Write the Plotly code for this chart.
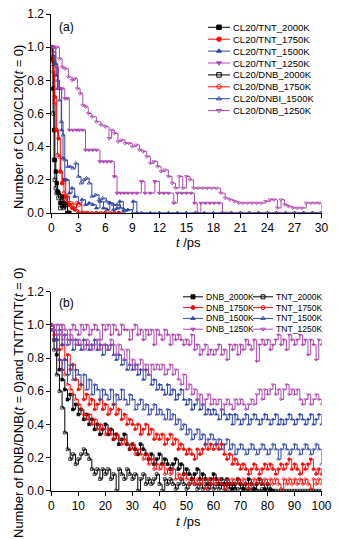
import plotly.graph_objects as go

# ---------------- Panel (a) data : CL20 fraction vs t (ps) ----------------
T_A_TNT_2000 = [0, 0.1, 0.2, 0.3, 0.4, 0.5, 0.6, 0.7, 0.8, 1.0, 1.2, 1.4, 1.6, 1.8, 2.0]
Y_A_TNT_2000 = [1.0, 0.93, 0.75, 0.5, 0.32, 0.25, 0.18, 0.13, 0.12, 0.06, 0.1, 0.04, 0.06, 0.0, 0.0]

T_A_DNB_2000 = [0, 0.1, 0.2, 0.3, 0.4, 0.5, 0.6, 0.8, 1.0, 1.2, 1.4, 1.6, 1.8, 2.0]
Y_A_DNB_2000 = [1.0, 0.9, 0.6, 0.32, 0.2, 0.15, 0.12, 0.09, 0.03, 0.07, 0.03, 0.05, 0.0, 0.0]

T_A_TNT_1750 = [0, 0.2, 0.4, 0.6, 0.8, 1.0, 1.2, 1.4, 1.6, 1.8, 2.0, 2.3, 2.6, 3.0, 3.5, 4.0, 5.0, 6.0, 7.0, 7.5]
Y_A_TNT_1750 = [1.0, 0.92, 0.7, 0.5, 0.45, 0.25, 0.18, 0.2, 0.1, 0.06, 0.05, 0.03, 0.02, 0.0, 0.0, 0.0, 0.0, 0.0, 0.0, 0.0]

T_A_DNB_1750 = [0, 0.2, 0.35, 0.5, 0.7, 0.9, 1.0, 1.2, 1.4, 1.6, 1.8, 2.0, 2.2, 2.5, 2.8, 3.1, 3.4, 3.8, 4.5, 5.5, 6.5, 7.5]
Y_A_DNB_1750 = [1.0, 0.85, 0.66, 0.5, 0.35, 0.34, 0.25, 0.18, 0.12, 0.08, 0.1, 0.05, 0.06, 0.03, 0.06, 0.05, 0.0, 0.0, 0.0, 0.0, 0.0, 0.0]

T_A_TNT_1500 = [0, 0.2, 0.4, 0.55, 0.7, 0.85, 1.0, 1.15, 1.3, 1.5, 1.7, 2.0, 2.3, 2.6, 3.0, 3.4, 3.8, 4.2, 4.6, 5.0,
                5.4, 5.8, 6.2, 6.5, 6.9, 7.3, 7.6, 8.0, 8.5, 9.1, 9.5, 10, 11, 12, 13, 14, 15, 16, 17, 18,
                19, 20, 21, 22, 23, 24, 25, 26, 27, 28, 29, 30]
Y_A_TNT_1500 = [1.0, 0.95, 0.9, 0.83, 0.75, 0.75, 0.75, 0.5, 0.33, 0.2, 0.2, 0.12, 0.15, 0.1, 0.06, 0.08, 0.05, 0.06, 0.05, 0.03,
                0.07, 0.03, 0.02, 0.06, 0.02, 0.03, 0.07, 0.01, 0.02, 0.07, 0.0, 0.0, 0.0, 0.0, 0.0, 0.0, 0.0, 0.0, 0.0, 0.0,
                0.0, 0.0, 0.0, 0.0, 0.0, 0.0, 0.0, 0.0, 0.0, 0.0, 0.0, 0.0]

T_A_DNB_1500 = [0, 0.3, 0.5, 0.7, 0.9, 1.1, 1.3, 1.5, 1.8, 2.1, 2.4, 2.7, 3.0, 3.3, 3.6, 3.9, 4.2, 4.5, 4.9, 5.3,
                5.7, 6.1, 6.5, 6.9, 7.3, 7.7, 8.1, 9, 10, 11, 12, 13, 14, 15, 16, 17, 18, 19, 20, 21,
                22, 23, 24, 25, 26, 27, 28, 29, 30]
Y_A_DNB_1500 = [1.0, 1.0, 0.9, 0.8, 0.68, 0.55, 0.47, 0.32, 0.28, 0.28, 0.27, 0.3, 0.22, 0.18, 0.2, 0.21, 0.18, 0.1, 0.11, 0.08,
                0.09, 0.07, 0.06, 0.05, 0.05, 0.03, 0.02, 0.0, 0.0, 0.0, 0.0, 0.0, 0.0, 0.0, 0.0, 0.0, 0.0, 0.0, 0.0, 0.0,
                0.0, 0.0, 0.0, 0.0, 0.0, 0.0, 0.0, 0.0, 0.0]

T_A_TNT_1250 = [0, 0.2, 0.5, 0.8, 1.2, 1.5, 1.8, 2.0, 2.4, 2.8, 3.1, 3.5, 3.8, 4.2, 4.6, 5.0, 5.4, 5.8, 6.2, 6.6,
                7.0, 7.3, 7.7, 8.1, 8.5, 9.0, 9.5, 10.0, 10.4, 11.0, 11.5, 12.0, 12.5, 13.0, 13.6, 14.0, 14.5, 15.0, 15.5, 15.9,
                16.2, 16.6, 17.1, 17.6, 18.1, 18.6, 19.0, 19.5, 20, 21, 22, 23, 24, 25, 26, 27, 28, 29, 30]
Y_A_TNT_1250 = [1.0, 0.97, 0.88, 0.75, 0.75, 0.69, 0.69, 0.5, 0.5, 0.5, 0.5, 0.5, 0.38, 0.38, 0.38, 0.38, 0.31, 0.31, 0.31, 0.31,
                0.22, 0.12, 0.12, 0.12, 0.12, 0.12, 0.12, 0.19, 0.12, 0.12, 0.19, 0.12, 0.12, 0.12, 0.06, 0.12, 0.12, 0.12, 0.12, 0.06,
                0.0, 0.06, 0.06, 0.06, 0.06, 0.06, 0.0, 0.0, 0.0, 0.0, 0.0, 0.0, 0.0, 0.0, 0.0, 0.0, 0.0, 0.0, 0.0]

T_A_DNB_1250 = [0, 0.3, 0.6, 0.9, 1.2, 1.5, 1.9, 2.3, 2.6, 2.9, 3.2, 3.5, 3.8, 4.1, 4.5, 5.0, 5.5, 6.0, 6.4, 6.7,
                7.0, 7.4, 7.8, 8.2, 8.6, 9.0, 9.4, 9.8, 10.2, 10.6, 11.0, 11.4, 11.8, 12.2, 12.6, 13.0, 13.4, 13.8, 14.2, 14.6,
                15.0, 15.4, 15.8, 16.3, 16.8, 17.3, 17.8, 18.3, 18.8, 19.3, 19.8, 20.3, 20.8, 21.3, 21.8, 22.3, 22.8, 23.3, 23.8, 24.3,
                24.7, 25.1, 25.5, 25.9, 26.3, 26.8, 27.3, 27.8, 28.3, 28.8, 29.3, 29.7, 30]
Y_A_DNB_1250 = [1.0, 1.0, 1.0, 0.93, 0.88, 0.87, 0.82, 0.8, 0.81, 0.75, 0.72, 0.65, 0.64, 0.6, 0.58, 0.55, 0.53, 0.52, 0.45, 0.5,
                0.48, 0.43, 0.44, 0.42, 0.42, 0.4, 0.41, 0.38, 0.37, 0.34, 0.3, 0.31, 0.28, 0.25, 0.26, 0.22, 0.18, 0.15, 0.22, 0.15,
                0.22, 0.2, 0.15, 0.15, 0.15, 0.15, 0.15, 0.15, 0.12, 0.09, 0.08, 0.07, 0.06, 0.06, 0.06, 0.06, 0.06, 0.06, 0.07, 0.08,
                0.08, 0.03, 0.08, 0.05, 0.04, 0.03, 0.03, 0.03, 0.06, 0.06, 0.06, 0.06, 0.0]

# ---------------- Panel (b) data : DNB / TNT fraction vs t (ps), 1 ps steps ----------------
T_B = list(range(0, 101))

Y_B_DNB_2000 = [1.0, 0.91, 0.82, 0.73, 0.67, 0.61, 0.55, 0.58, 0.49, 0.52,
                0.46, 0.49, 0.43, 0.46, 0.40, 0.43, 0.37, 0.40, 0.34, 0.37,
                0.40, 0.34, 0.37, 0.31, 0.34, 0.28, 0.31, 0.34, 0.28, 0.25,
                0.28, 0.25, 0.22, 0.28, 0.25, 0.22, 0.19, 0.22, 0.16, 0.19,
                0.22, 0.16, 0.19, 0.16, 0.13, 0.16, 0.19, 0.13, 0.16, 0.10,
                0.13, 0.10, 0.07, 0.10, 0.13, 0.07, 0.10, 0.07, 0.04, 0.07,
                0.10, 0.07, 0.04, 0.07, 0.04, 0.07, 0.04, 0.01, 0.04, 0.07,
                0.04, 0.01, 0.04, 0.07, 0.04, 0.01, 0.04, 0.07, 0.04, 0.01,
                0.04, 0.01, 0.0]
Y_B_TNT_2000 = [0.97, 0.85, 0.70, 0.60, 0.50, 0.35, 0.25, 0.19, 0.22, 0.16,
                0.19, 0.22, 0.25, 0.22, 0.19, 0.13, 0.10, 0.13, 0.07, 0.13,
                0.10, 0.13, 0.07, 0.10, 0.0, 0.13, 0.10, 0.07, 0.13, 0.10,
                0.07, 0.10, 0.0, 0.07, 0.10, 0.04, 0.07, 0.04, 0.07, 0.10,
                0.04, 0.0, 0.07, 0.04, 0.07, 0.04, 0.01, 0.04, 0.07, 0.04,
                0.01, 0.04, 0.07, 0.04, 0.01, 0.04, 0.01, 0.04, 0.01, 0.04,
                0.01, 0.04, 0.01, 0.04, 0.0, 0.04, 0.01, 0.04, 0.01, 0.01,
                0.04, 0.01, 0.0, 0.01, 0.0, 0.01, 0.0, 0.0, 0.01, 0.0,
                0.0, 0.0, 0.0, 0.0, 0.0, 0.0, 0.0, 0.0, 0.0, 0.0,
                0.0, 0.0, 0.0, 0.0, 0.0, 0.0, 0.0, 0.0, 0.0, 0.0,
                0.0]
Y_B_DNB_1750 = [1.0, 0.94, 0.91, 0.85, 0.88, 0.79, 0.82, 0.73, 0.76, 0.67,
                0.61, 0.64, 0.55, 0.58, 0.52, 0.55, 0.49, 0.52, 0.55, 0.49,
                0.52, 0.46, 0.49, 0.52, 0.46, 0.49, 0.43, 0.46, 0.40, 0.43,
                0.40, 0.37, 0.40, 0.34, 0.37, 0.40, 0.34, 0.37, 0.31, 0.34,
                0.31, 0.34, 0.28, 0.31, 0.34, 0.28, 0.31, 0.25, 0.28, 0.25,
                0.22, 0.25, 0.22, 0.19, 0.25, 0.22, 0.25, 0.28, 0.25, 0.28,
                0.25, 0.28, 0.25, 0.28, 0.22, 0.19, 0.22, 0.16, 0.19, 0.16,
                0.13, 0.16, 0.13, 0.10, 0.13, 0.16, 0.13, 0.10, 0.13, 0.16,
                0.13, 0.16, 0.13, 0.10, 0.13, 0.16, 0.13, 0.16, 0.19, 0.13,
                0.16, 0.13, 0.10, 0.16, 0.13, 0.16, 0.19, 0.13, 0.10, 0.13,
                0.10]
Y_B_TNT_1750 = [0.97, 0.91, 0.85, 0.79, 0.73, 0.70, 0.64, 0.61, 0.58, 0.55,
                0.52, 0.49, 0.46, 0.43, 0.46, 0.40, 0.43, 0.37, 0.40, 0.37,
                0.34, 0.37, 0.34, 0.31, 0.34, 0.31, 0.28, 0.31, 0.28, 0.25,
                0.28, 0.22, 0.25, 0.22, 0.19, 0.22, 0.16, 0.19, 0.13, 0.16,
                0.13, 0.16, 0.10, 0.13, 0.10, 0.13, 0.07, 0.10, 0.07, 0.10,
                0.07, 0.04, 0.07, 0.04, 0.07, 0.04, 0.07, 0.01, 0.07, 0.04,
                0.07, 0.04, 0.07, 0.04, 0.01, 0.07, 0.04, 0.07, 0.04, 0.07,
                0.04, 0.07, 0.04, 0.01, 0.04, 0.07, 0.04, 0.07, 0.04, 0.07,
                0.04, 0.07, 0.04, 0.07, 0.04, 0.01, 0.07, 0.04, 0.07, 0.04,
                0.07, 0.04, 0.07, 0.04, 0.07, 0.04, 0.01, 0.07, 0.04, 0.07,
                0.04]
Y_B_DNB_1500 = [1.0, 0.97, 0.91, 0.97, 0.88, 0.94, 0.88, 0.91, 0.85, 0.91,
                0.88, 0.85, 0.91, 0.88, 0.85, 0.88, 0.91, 0.85, 0.88, 0.82,
                0.88, 0.85, 0.88, 0.82, 0.79, 0.82, 0.76, 0.79, 0.73, 0.76,
                0.73, 0.76, 0.70, 0.73, 0.67, 0.73, 0.70, 0.64, 0.67, 0.61,
                0.64, 0.61, 0.58, 0.64, 0.58, 0.61, 0.55, 0.58, 0.61, 0.55,
                0.52, 0.55, 0.49, 0.52, 0.55, 0.49, 0.52, 0.46, 0.49, 0.46,
                0.49, 0.46, 0.43, 0.49, 0.46, 0.43, 0.46, 0.40, 0.46, 0.43,
                0.40, 0.43, 0.46, 0.40, 0.43, 0.46, 0.43, 0.40, 0.43, 0.46,
                0.43, 0.40, 0.43, 0.46, 0.40, 0.43, 0.40, 0.43, 0.46, 0.43,
                0.40, 0.43, 0.46, 0.43, 0.40, 0.43, 0.46, 0.40, 0.43, 0.46,
                0.40]
Y_B_TNT_1500 = [0.97, 0.91, 0.85, 0.79, 0.73, 0.79, 0.70, 0.76, 0.67, 0.73,
                0.70, 0.64, 0.70, 0.61, 0.67, 0.58, 0.64, 0.61, 0.55, 0.61,
                0.58, 0.55, 0.61, 0.52, 0.58, 0.55, 0.61, 0.55, 0.52, 0.58,
                0.55, 0.49, 0.52, 0.55, 0.49, 0.52, 0.46, 0.49, 0.52, 0.46,
                0.49, 0.46, 0.43, 0.49, 0.43, 0.46, 0.40, 0.43, 0.37, 0.40,
                0.34, 0.37, 0.31, 0.34, 0.37, 0.31, 0.34, 0.28, 0.31, 0.34,
                0.31, 0.28, 0.31, 0.25, 0.28, 0.31, 0.25, 0.28, 0.22, 0.25,
                0.28, 0.25, 0.22, 0.25, 0.28, 0.25, 0.22, 0.25, 0.28, 0.25,
                0.22, 0.25, 0.28, 0.25, 0.19, 0.25, 0.28, 0.25, 0.22, 0.25,
                0.28, 0.25, 0.22, 0.25, 0.28, 0.25, 0.22, 0.25, 0.28, 0.25,
                0.16]
Y_B_DNB_1250 = [1.0, 0.97, 1.0, 0.94, 1.0, 0.97, 0.91, 0.97, 1.0, 0.97,
                0.94, 1.0, 0.97, 1.0, 0.94, 0.97, 1.0, 0.97, 0.91, 1.0,
                0.97, 1.0, 0.94, 1.0, 0.97, 0.94, 1.0, 0.97, 0.97, 0.91,
                0.97, 1.0, 0.94, 0.97, 0.91, 0.97, 0.94, 0.97, 0.88, 0.97,
                0.94, 0.91, 0.97, 0.94, 0.88, 0.94, 0.91, 0.94, 0.91, 0.88,
                0.91, 0.88, 0.94, 0.85, 0.88, 0.82, 0.85, 0.88, 0.82, 0.85,
                0.82, 0.85, 0.88, 0.82, 0.85, 0.79, 0.88, 0.85, 0.88, 0.82,
                0.88, 0.85, 0.91, 0.88, 0.85, 0.91, 0.78, 0.88, 0.91, 0.88,
                0.91, 0.85, 0.88, 0.91, 0.94, 0.88, 0.91, 0.85, 0.94, 0.91,
                0.88, 0.91, 0.94, 0.88, 0.91, 0.82, 0.91, 0.88, 0.79, 0.91,
                0.88]
Y_B_TNT_1250 = [1.0, 0.97, 0.94, 1.0, 0.91, 0.94, 0.88, 0.94, 0.91, 0.88,
                0.91, 0.88, 0.85, 0.91, 0.88, 0.85, 0.88, 0.91, 0.85, 0.88,
                0.88, 0.85, 0.91, 0.88, 0.82, 0.88, 0.85, 0.79, 0.85, 0.76,
                0.79, 0.73, 0.76, 0.79, 0.73, 0.76, 0.70, 0.76, 0.73, 0.76,
                0.73, 0.76, 0.70, 0.73, 0.76, 0.70, 0.73, 0.67, 0.64, 0.70,
                0.61, 0.64, 0.58, 0.61, 0.55, 0.58, 0.52, 0.55, 0.58, 0.52,
                0.55, 0.52, 0.55, 0.49, 0.52, 0.55, 0.52, 0.49, 0.55, 0.52,
                0.55, 0.52, 0.49, 0.52, 0.55, 0.52, 0.58, 0.61, 0.55, 0.61,
                0.58, 0.61, 0.64, 0.58, 0.61, 0.55, 0.61, 0.64, 0.58, 0.61,
                0.58, 0.61, 0.55, 0.52, 0.55, 0.58, 0.52, 0.55, 0.58, 0.55,
                0.52]

# ---------------- tick labels ----------------
Y_TICKS = [0.0, 0.2, 0.4, 0.6, 0.8, 1.0, 1.2]
XA_TICKS = [0, 3, 6, 9, 12, 15, 18, 21, 24, 27, 30]
XB_TICKS = [0, 10, 20, 30, 40, 50, 60, 70, 80, 90, 100]

# ---------------- styles ----------------
BLACK, RED, BLUE, PURPLE = "#000000", "#ff0a0a", "#3448a8", "#b04ab0"
FONT = "Arial, Liberation Sans, Helvetica, sans-serif"

SERIES_A = [
    ("CL20/TNT_2000K", T_A_TNT_2000, Y_A_TNT_2000, BLACK, "square"),
    ("CL20/TNT_1750K", T_A_TNT_1750, Y_A_TNT_1750, RED, "circle"),
    ("CL20/TNT_1500K", T_A_TNT_1500, Y_A_TNT_1500, BLUE, "triangle-up"),
    ("CL20/TNT_1250K", T_A_TNT_1250, Y_A_TNT_1250, PURPLE, "triangle-down"),
    ("CL20/DNB_2000K", T_A_DNB_2000, Y_A_DNB_2000, BLACK, "square-open"),
    ("CL20/DNB_1750K", T_A_DNB_1750, Y_A_DNB_1750, RED, "circle-open"),
    ("CL20/DNBI_1500K", T_A_DNB_1500, Y_A_DNB_1500, BLUE, "triangle-up-open"),
    ("CL20/DNB_1250K", T_A_DNB_1250, Y_A_DNB_1250, PURPLE, "triangle-down-open"),
]
SERIES_B = [
    ("DNB_2000K", Y_B_DNB_2000, BLACK, "square"),
    ("TNT_2000K", Y_B_TNT_2000, BLACK, "square-open"),
    ("DNB_1750K", Y_B_DNB_1750, RED, "circle"),
    ("TNT_1750K", Y_B_TNT_1750, RED, "circle-open"),
    ("DNB_1500K", Y_B_DNB_1500, BLUE, "triangle-up"),
    ("TNT_1500K", Y_B_TNT_1500, BLUE, "triangle-up-open"),
    ("DNB_1250K", Y_B_DNB_1250, PURPLE, "triangle-down"),
    ("TNT_1250K", Y_B_TNT_1250, PURPLE, "triangle-down-open"),
]

W, H = 339, 539


def px(v):
    return v / W


def py(v):
    return 1 - v / H


fig = go.Figure()

# data traces, panel (a)
for name, t, y, col, sym in SERIES_A:
    fig.add_trace(go.Scatter(
        x=t, y=y, mode="lines+markers", name=name, xaxis="x", yaxis="y",
        line=dict(color=col, width=1, shape="hv"),
        marker=dict(symbol=sym, size=3.5, color=col, line=dict(color=col, width=0.8)),
        showlegend=False, hoverinfo="skip"))

# data traces, panel (b)
for name, y, col, sym in SERIES_B:
    fig.add_trace(go.Scatter(
        x=T_B[:len(y)], y=y, mode="lines+markers", name=name, xaxis="x2", yaxis="y2",
        line=dict(color=col, width=1, shape="hv"),
        marker=dict(symbol=sym, size=2.8, color=col, line=dict(color=col, width=0.7)),
        showlegend=False, hoverinfo="skip"))

annotations = []


def legend_entry(label, col, sym, x0, x1, ytop, fsize, msize):
    yy = py(ytop)
    fig.add_trace(go.Scatter(
        x=[px(x0), px((x0 + x1) / 2), px(x1)], y=[yy, yy, yy],
        mode="lines+markers", xaxis="x5", yaxis="y5",
        line=dict(color=col, width=1),
        marker=dict(symbol=sym, size=msize, color=col, opacity=[0, 1, 0],
                    line=dict(color=col, width=1)),
        showlegend=False, hoverinfo="skip"))
    annotations.append(dict(x=px(x1 + 2), y=yy, xref="paper", yref="paper", text=label,
                            showarrow=False, xanchor="left", yanchor="middle",
                            font=dict(family=FONT, size=fsize, color="black")))


# legend panel (a)
for i, (name, t, y, col, sym) in enumerate(SERIES_A):
    legend_entry(name, col, sym, 208, 230, 27.3 + i * 11.9, 9.5, 4.5)

# legend panel (b): two columns
for i, (name, y, col, sym) in enumerate(SERIES_B):
    row, colm = i // 2, i % 2
    x0 = 183 if colm == 0 else 253
    legend_entry(name, col, sym, x0, x0 + 20, 296.8 + row * 10.8, 8.6, 4)

# text annotations
annotations += [
    dict(x=px(58), y=py(27), text="(a)", xanchor="left", yanchor="middle"),
    dict(x=px(58), y=py(303), text="(b)", xanchor="left", yanchor="middle"),
    dict(x=px(18), y=py(127), text="Number of CL20/CL20(<i>t</i> = 0)", textangle=-90,
         xanchor="center", yanchor="middle", font=dict(family=FONT, size=13, color="black")),
    dict(x=px(18), y=py(403), text="Number of DNB/DNB(<i>t</i> = 0)and TNT/TNT(<i>t</i> = 0)",
         textangle=-90, xanchor="center", yanchor="middle",
         font=dict(family=FONT, size=13, color="black")),
    dict(x=px(188), y=py(242), text="<i>t</i> /ps", xanchor="center", yanchor="middle",
         font=dict(family=FONT, size=13, color="black")),
    dict(x=px(188), y=py(521), text="<i>t</i> /ps", xanchor="center", yanchor="middle",
         font=dict(family=FONT, size=13, color="black")),
]
for a in annotations:
    a.setdefault("xref", "paper")
    a.setdefault("yref", "paper")
    a.setdefault("showarrow", False)
    a.setdefault("borderpad", 0)
    a.setdefault("font", dict(family=FONT, size=12, color="black"))

XDOM = [px(51.3), px(321.5)]
YA_DOM = [py(213), py(14)]
YB_DOM = [py(490.7), py(291.7)]

axis_common = dict(showgrid=False, zeroline=False, showline=True, linecolor="black",
                   linewidth=1, ticks="outside", ticklen=4, tickwidth=1, tickcolor="black",
                   tickfont=dict(family=FONT, size=12, color="black"), automargin=False,
                   fixedrange=True)
mirror_common = dict(showgrid=False, zeroline=False, showline=True, linecolor="black",
                     linewidth=1, ticks="inside", ticklen=4, tickwidth=1, tickcolor="black",
                     showticklabels=False, automargin=False, fixedrange=True)

fig.update_layout(
    width=W, height=H,
    margin=dict(l=0, r=0, t=0, b=0),
    paper_bgcolor="white", plot_bgcolor="rgba(0,0,0,0)",
    hovermode=False, dragmode=False, showlegend=False,
    xaxis=dict(domain=XDOM, anchor="y", range=[0, 30], tickvals=XA_TICKS, **axis_common),
    yaxis=dict(domain=YA_DOM, anchor="x", range=[0, 1.2], tickvals=Y_TICKS,
               tickformat=".1f", **axis_common),
    xaxis2=dict(domain=XDOM, anchor="y2", range=[0, 100], tickvals=XB_TICKS, **axis_common),
    yaxis2=dict(domain=YB_DOM, anchor="x2", range=[0, 1.2], tickvals=Y_TICKS,
                tickformat=".1f", **axis_common),
    xaxis3=dict(overlaying="x", anchor="y", side="top", range=[0, 30], dtick=3,
                minor=dict(ticks="inside", ticklen=2, dtick=1.5, tickcolor="black"), **mirror_common),
    yaxis3=dict(overlaying="y", anchor="x", side="right", range=[0, 1.2], dtick=0.2,
                minor=dict(ticks="inside", ticklen=2, dtick=0.1, tickcolor="black"), **mirror_common),
    xaxis4=dict(overlaying="x2", anchor="y2", side="top", range=[0, 100], dtick=10,
                minor=dict(ticks="inside", ticklen=2, dtick=5, tickcolor="black"), **mirror_common),
    yaxis4=dict(overlaying="y2", anchor="x2", side="right", range=[0, 1.2], dtick=0.2,
                minor=dict(ticks="inside", ticklen=2, dtick=0.1, tickcolor="black"), **mirror_common),
    xaxis5=dict(domain=[0, 1], anchor="y5", range=[0, 1], visible=False, fixedrange=True),
    yaxis5=dict(domain=[0, 1], anchor="x5", range=[0, 1], visible=False, fixedrange=True),
    annotations=annotations,
)

fig.write_html(
    "out.html",
    config={"displayModeBar": False, "staticPlot": True},
    post_script="document.body.style.margin='0';document.body.style.overflow='hidden';",
)
